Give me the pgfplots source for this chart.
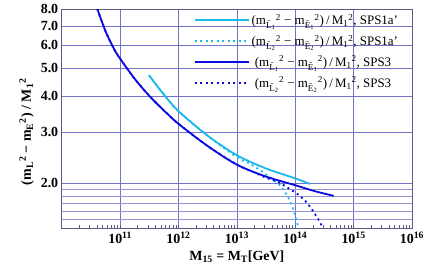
\documentclass[border=0pt]{standalone}
\usepackage{fontspec}
\setmainfont{Liberation Serif}
\usepackage{pgfplots}
\pgfplotsset{compat=1.18}
\definecolor{lblue}{RGB}{25,185,235}
\definecolor{dblue}{RGB}{10,10,225}
\definecolor{gridc}{RGB}{115,115,200}
\definecolor{framec}{RGB}{90,90,130}
\begin{document}
\begin{tikzpicture}
\begin{axis}[
  name=ax,
  xmode=log, ymode=log,
  scale only axis, width=350bp, height=219bp,
  xmin=1e10, xmax=1e16, ymin=1.4, ymax=8,
  xtick={1e10,1e11,1e12,1e13,1e14,1e15,1e16},
  xticklabels={,\textbf{10\textsuperscript{11}},\textbf{10\textsuperscript{12}},\textbf{10\textsuperscript{13}},\textbf{10\textsuperscript{14}},\textbf{10\textsuperscript{15}},\textbf{10\textsuperscript{16}}},
  ytick={2,3,4,5,6,7,8},
  yticklabels={\textbf{2.0},\textbf{3.0},\textbf{4.0},\textbf{5.0},\textbf{6.0},\textbf{7.0},\textbf{8.0}},
  minor ytick={1.5,1.6,1.7,1.8,1.9},
  xmajorgrids, ymajorgrids, yminorgrids,
  major grid style={gridc, line width=0.6bp},
  minor grid style={gridc!75, line width=0.7bp},
  xtick pos=left, ytick pos=left,
  major tick length=0pt,
  minor tick length=3bp,
  minor x tick style={framec, line width=0.5bp},
  minor y tick style={draw=none},
  axis line style={framec, line width=0.8bp},
  ticklabel style={font=\fontsize{14}{16}\selectfont},
  xlabel={\textbf{M\textsubscript{15} = M\textsubscript{T}[GeV]}},
  ylabel={\textbf{(m\textsubscript{L}\textsuperscript{2} − m\textsubscript{E}\textsuperscript{2}) / M\textsubscript{1}\textsuperscript{2}}},
  label style={font=\fontsize{14}{16}\selectfont},
  ylabel style={at={(ticklabel cs:0.44)}},
  legend style={draw=none, fill=none, at={(rel axis cs:0.975,0.995)}, anchor=north east,
    font=\fontsize{13}{15}\selectfont, row sep=5bp},
  legend cell align=left,
  legend image code/.code={\draw[#1] (0bp,0bp) -- (54bp,0bp);},
]
\addplot[lblue, line width=1.8bp, smooth] coordinates {
 (3.13e11,4.72) (5.62e11,4.05) (1e12,3.55) (3.16e12,2.92)
 (1e13,2.50) (3.16e13,2.25) (1e14,2.08) (1.78e14,1.99)};
\addlegendentry{(m$_{\tilde{\mathrm{L}}_{\mathrm{1}}}$\textsuperscript{2} − m$_{\tilde{\mathrm{E}}_{\mathrm{1}}}$\textsuperscript{2})\,/\,M$_{\mathrm{1}}$\textsuperscript{2}, SPS1a'}
\addplot[lblue, line width=1.8bp, dash pattern=on 2bp off 3.5bp, smooth] coordinates {
 (3.13e11,4.72) (5.62e11,4.05) (1e12,3.55) (3.16e12,2.92)
 (1e13,2.46) (1.58e13,2.35) (2.51e13,2.22) (3.98e13,2.07) (5.62e13,1.96)
 (7.08e13,1.83) (8.51e13,1.70) (9.77e13,1.57) (1.07e14,1.47) (1.135e14,1.40)};
\addlegendentry{(m$_{\tilde{\mathrm{L}}_{\mathrm{2}}}$\textsuperscript{2} − m$_{\tilde{\mathrm{E}}_{\mathrm{2}}}$\textsuperscript{2})\,/\,M$_{\mathrm{1}}$\textsuperscript{2}, SPS1a'}
\addplot[dblue, line width=1.8bp, smooth] coordinates {
 (4.07e10,8.0) (5.62e10,6.71) (7.94e10,5.80) (1e11,5.39) (1.78e11,4.59)
 (3.16e11,4.01) (5.62e11,3.57) (1e12,3.21) (3.16e12,2.69) (1e13,2.32)
 (3.16e13,2.11) (1e14,1.97) (2.14e14,1.88) (4.57e14,1.81)};
\addlegendentry{\ (m$_{\tilde{\mathrm{L}}_{\mathrm{1}}}$\textsuperscript{2} − m$_{\tilde{\mathrm{E}}_{\mathrm{1}}}$\textsuperscript{2})\,/\,M$_{\mathrm{1}}$\textsuperscript{2}, SPS3}
\addplot[dblue, line width=1.8bp, dash pattern=on 2bp off 3.5bp, smooth] coordinates {
 (4.07e10,8.0) (5.62e10,6.71) (7.94e10,5.80) (1e11,5.39) (1.78e11,4.59)
 (3.16e11,4.01) (5.62e11,3.57) (1e12,3.21) (3.16e12,2.69) (1e13,2.32)
 (2.0e13,2.18) (3.16e13,2.09) (5.13e13,2.02) (7.76e13,1.92) (1.12e14,1.83)
 (1.48e14,1.74) (1.91e14,1.63) (2.45e14,1.51) (2.88e14,1.42) (3.02e14,1.40)};
\addlegendentry{\ (m$_{\tilde{\mathrm{L}}_{\mathrm{2}}}$\textsuperscript{2} − m$_{\tilde{\mathrm{E}}_{\mathrm{2}}}$\textsuperscript{2})\,/\,M$_{\mathrm{1}}$\textsuperscript{2}, SPS3}
\end{axis}
\pgfresetboundingbox
\path ([xshift=-61.7bp,yshift=-45bp]ax.south west) rectangle ([xshift=24bp,yshift=9bp]ax.north east);
\end{tikzpicture}
\end{document}
